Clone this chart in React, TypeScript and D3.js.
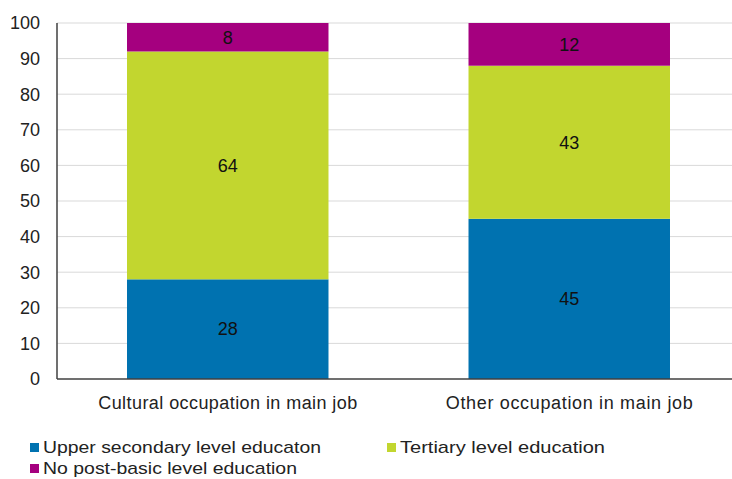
import React, { useRef, useEffect } from 'react';
import * as d3 from 'd3';

const categories = ['Cultural occupation in main job', 'Other occupation in main job'];
const seriesNames = ['Upper secondary level educaton', 'Tertiary level education', 'No post-basic level education'];
const upperSecondary = [28, 45];
const tertiary = [64, 43];
const noPostBasic = [8, 12];
const colors = ['#0072b0', '#c2d62f', '#a5007f'];
const yTicks = [0, 10, 20, 30, 40, 50, 60, 70, 80, 90, 100];

const App = () => {
  const ref = useRef<SVGSVGElement>(null);

  useEffect(() => {
    const svg = d3.select(ref.current);
    svg.selectAll('*').remove();

    const width = 732;
    const left = 57;
    const top = 23;
    const bottom = 379;

    const x = d3.scaleBand().domain(categories).range([left, 740]).paddingInner(0.41).paddingOuter(0.205);
    const y = d3.scaleLinear().domain([0, 100]).range([bottom, top]);

    const rows = categories.map((c, i) => ({
      cat: c,
      s0: upperSecondary[i],
      s1: tertiary[i],
      s2: noPostBasic[i],
    }));
    const series = d3.stack<any>().keys(['s0', 's1', 's2'])(rows);

    // gridlines
    svg.append('g')
      .selectAll('line')
      .data(yTicks.filter((t) => t > 0))
      .join('line')
      .attr('x1', left)
      .attr('x2', width)
      .attr('y1', (d) => y(d))
      .attr('y2', (d) => y(d))
      .attr('stroke', '#d9d9d9')
      .attr('stroke-width', 1);

    // bars + value labels
    series.forEach((s, si) => {
      svg.append('g')
        .attr('fill', colors[si])
        .selectAll('rect')
        .data(s)
        .join('rect')
        .attr('x', (d) => x(d.data.cat)!)
        .attr('width', x.bandwidth())
        .attr('y', (d) => y(d[1]))
        .attr('height', (d) => y(d[0]) - y(d[1]));
      svg.append('g')
        .selectAll('text')
        .data(s)
        .join('text')
        .attr('x', (d) => x(d.data.cat)! + x.bandwidth() / 2)
        .attr('y', (d) => y((d[0] + d[1]) / 2))
        .attr('dy', '0.35em')
        .attr('text-anchor', 'middle')
        .attr('font-size', 18)
        .attr('fill', '#111')
        .text((d) => d[1] - d[0]);
    });

    // axes lines
    svg.append('line')
      .attr('x1', left).attr('x2', left)
      .attr('y1', top).attr('y2', bottom)
      .attr('stroke', '#404040').attr('stroke-width', 1.5);
    svg.append('line')
      .attr('x1', left).attr('x2', width)
      .attr('y1', bottom).attr('y2', bottom)
      .attr('stroke', '#404040').attr('stroke-width', 1.5);

    svg.append('g')
      .selectAll('text')
      .data(yTicks)
      .join('text')
      .attr('x', 40)
      .attr('y', (d) => y(d))
      .attr('dy', '0.35em')
      .attr('text-anchor', 'end')
      .attr('font-size', 18)
      .attr('fill', '#222')
      .text((d) => d);

    // category labels
    const catWidths = [259, 247];
    svg.append('g')
      .selectAll('text')
      .data(categories)
      .join('text')
      .attr('x', (d) => x(d)! + x.bandwidth() / 2)
      .attr('y', 409)
      .attr('text-anchor', 'middle')
      .attr('font-size', 18)
      .attr('fill', '#222')
      .attr('textLength', (d, i) => catWidths[i])
      .attr('lengthAdjust', 'spacing')
      .text((d) => d);

    // legend
    const legendPos = [
      [30, 453],
      [387, 453],
      [30, 474],
    ];
    const legendWidths = [278, 205, 254];
    const lg = svg.append('g')
      .selectAll('g')
      .data(seriesNames)
      .join('g')
      .attr('transform', (d, i) => `translate(${legendPos[i][0]},${legendPos[i][1]})`);
    lg.append('rect')
      .attr('x', 0).attr('y', -10)
      .attr('width', 9).attr('height', 9)
      .attr('fill', (d, i) => colors[i]);
    lg.append('text')
      .attr('x', 13)
      .attr('y', 0)
      .attr('font-size', 17)
      .attr('fill', '#222')
      .attr('textLength', (d, i) => legendWidths[i])
      .attr('lengthAdjust', 'spacingAndGlyphs')
      .text((d) => d);
  }, []);

  return (
    <svg
      ref={ref}
      width={732}
      height={479}
      style={{ position: 'absolute', left: 0, top: 0, fontFamily: 'Liberation Sans, Arial, sans-serif', background: '#fff' }}
    />
  );
};

export default App;
